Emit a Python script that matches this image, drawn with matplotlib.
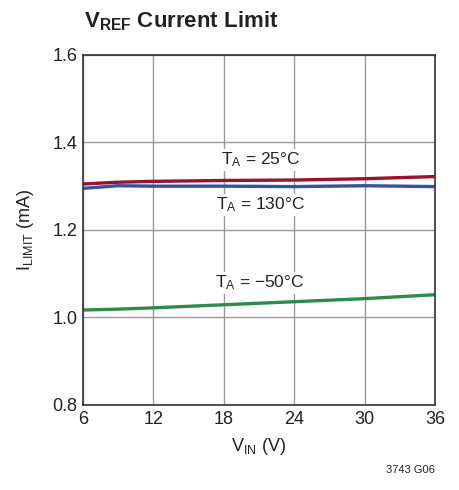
import matplotlib
matplotlib.use('Agg')
import matplotlib.pyplot as plt

plt.rcParams['font.family'] = ['Liberation Sans Narrow', 'Liberation Sans', 'DejaVu Sans']
plt.rcParams['mathtext.fontset'] = 'custom'
plt.rcParams['mathtext.rm'] = 'Liberation Sans'
plt.rcParams['mathtext.it'] = 'Liberation Sans'
plt.rcParams['mathtext.bf'] = 'Liberation Sans:bold'

# datos
v_in = [6, 9, 12, 18, 24, 30, 36]
i_25 = [1.305, 1.309, 1.311, 1.313, 1.314, 1.317, 1.322]
i_130 = [1.295, 1.301, 1.300, 1.300, 1.299, 1.301, 1.299]
i_m50 = [1.017, 1.019, 1.022, 1.029, 1.036, 1.043, 1.052]

x_ticks = [6, 12, 18, 24, 30, 36]
y_ticks = [0.8, 1.0, 1.2, 1.4, 1.6]

fig = plt.figure(figsize=(4.6, 4.9), dpi=100)
ax = fig.add_axes([0.180, 0.1735, 0.766, 0.7145])

ax.plot(v_in, i_25, color='#9a1230', lw=2.4, solid_capstyle='butt')
ax.plot(v_in, i_130, color='#3553a3', lw=2.4, solid_capstyle='butt')
ax.plot(v_in, i_m50, color='#2f8a4c', lw=2.4, solid_capstyle='butt')

ax.set_xlim(6, 36)
ax.set_ylim(0.8, 1.6)
ax.set_xticks(x_ticks)
ax.set_yticks(y_ticks)
ax.set_yticklabels([f'{v:.1f}' for v in y_ticks])
ax.grid(True, color='#999999', lw=1.0)
ax.set_axisbelow(True)
ax.tick_params(length=0, labelsize=13, colors='#222222', pad=4)
for s in ax.spines.values():
    s.set_color('#333333')
    s.set_linewidth(1.2)

# etiquetas de las curvas
kw = dict(ha='center', va='center', fontsize=12.5, color='#222222',
          bbox=dict(facecolor='white', edgecolor='none', pad=1))
ax.text(21.1, 1.36, r'$\mathregular{T_A}$ = 25°C', **kw)
ax.text(21.1, 1.257, r'$\mathregular{T_A}$ = 130°C', **kw)
ax.text(21.1, 1.079, r'$\mathregular{T_A}$ = ' + '\u221250°C', **kw)

ax.set_xlabel(r'$\mathregular{V_{IN}}$ (V)', fontsize=13, color='#222222', labelpad=6)
ax.set_ylabel(r'$\mathregular{I_{LIMIT}}$ (mA)', fontsize=13, color='#222222', labelpad=12)

fig.text(0.183, 0.957, r'$\mathbf{V_{REF}}$ Current Limit', fontsize=16,
         fontweight='bold', color='#222222', ha='left', va='center')
fig.text(0.945, 0.04, '3743 G06', fontsize=8, color='#222222', ha='right', va='center')

fig.savefig('out.png', dpi=100)
